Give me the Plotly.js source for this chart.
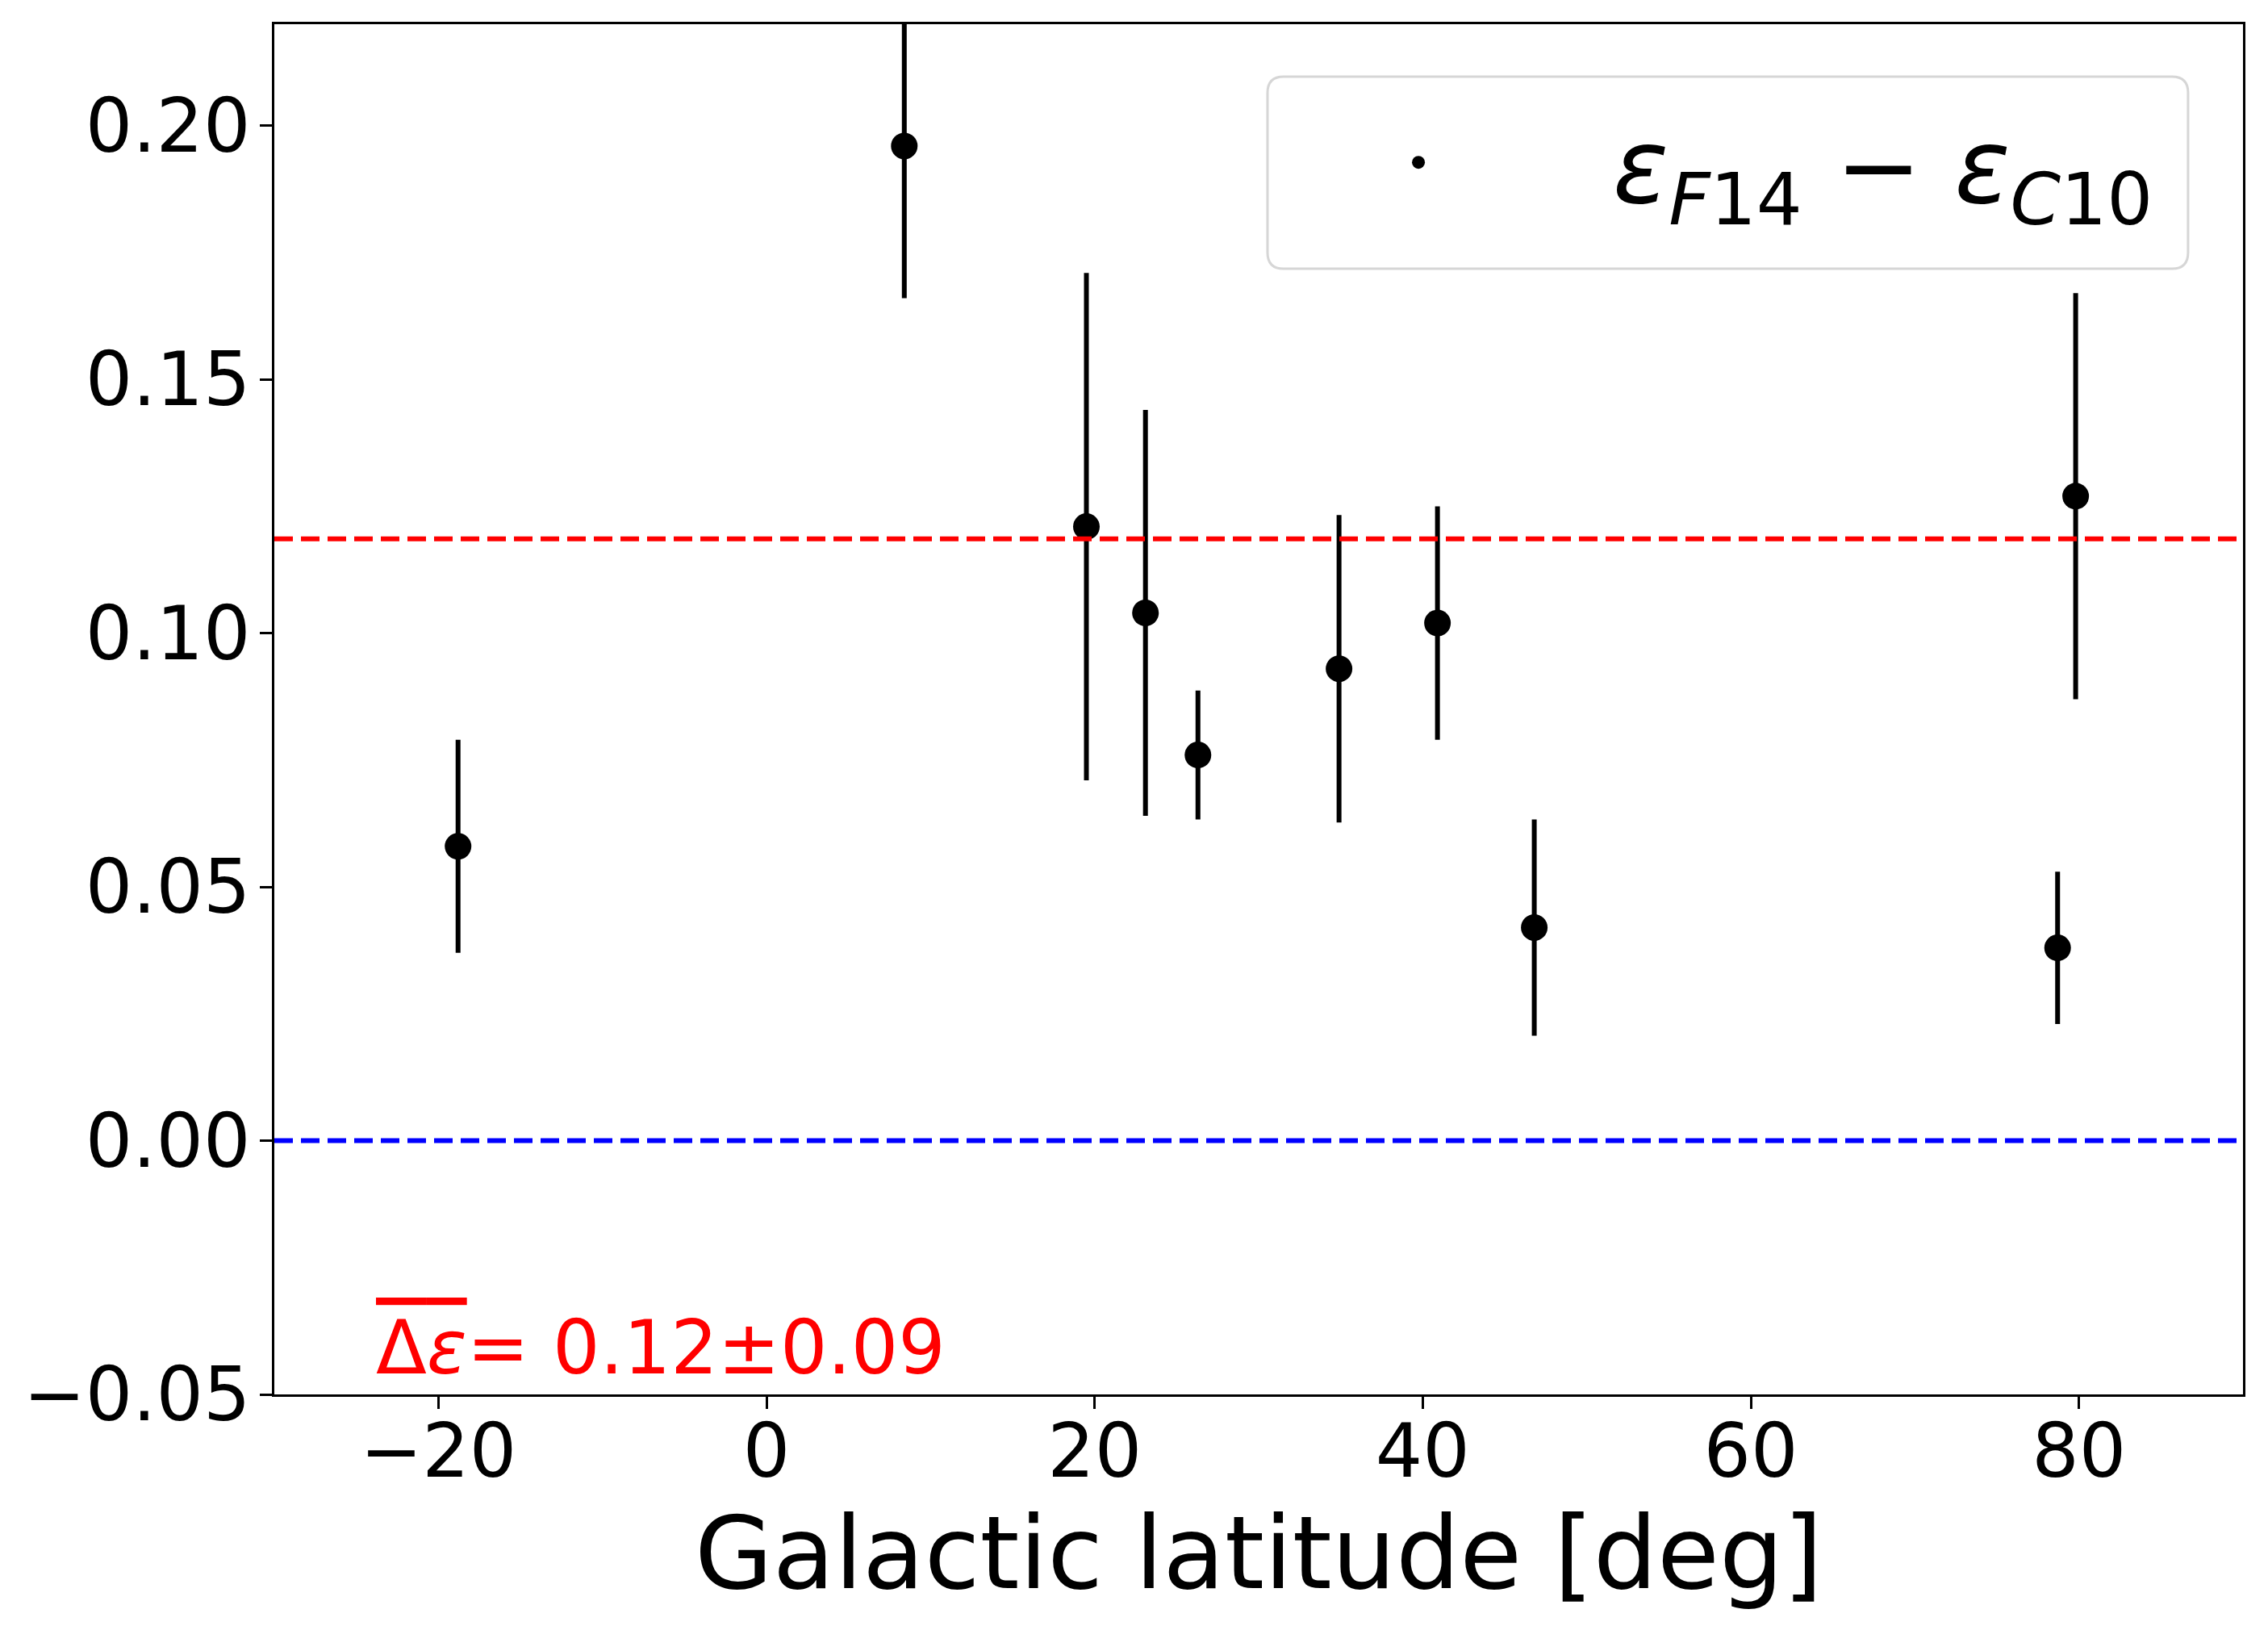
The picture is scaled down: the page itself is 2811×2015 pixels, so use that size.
<!DOCTYPE html>
<html>
<head>
<meta charset="utf-8">
<script src="https://cdn.plot.ly/plotly-3.0.1.min.js"></script>
<style>html,body{margin:0;padding:0;background:#fff;}</style>
</head>
<body>
<div id="chart" style="width:2811px;height:2015px;"></div>
<script>
// Data
var latitude = [-18.8, 8.4, 19.5, 23.1, 26.3, 34.9, 40.9, 46.8, 78.7, 79.8];
var deltaEps = [0.058, 0.196, 0.121, 0.104, 0.076, 0.093, 0.102, 0.042, 0.038, 0.127];
var deltaErr = [0.021, 0.030, 0.050, 0.040, 0.0127, 0.0303, 0.023, 0.0213, 0.015, 0.040];
var meanValue = 0.1186;
var zeroValue = 0.0;
var xTicks = [-20, 0, 20, 40, 60, 80];
var yTicks = [-0.05, 0.00, 0.05, 0.10, 0.15, 0.20];
var seriesName = "<i>ε</i><sub><i>F</i>14</sub> − <i>ε</i><sub><i>C</i>10</sub>";
var annotText = "<span style='text-decoration:overline'>Δ<i>ε</i></span>= 0.12±0.09";

var FONT = "DejaVu Sans, Liberation Sans, sans-serif";

// legend frame (rounded box) in paper coordinates
function roundedBox(x0, y0, x1, y1, rx, ry) {
  return "M " + (x0 + rx) + "," + y1 +
    " L " + (x1 - rx) + "," + y1 +
    " Q " + x1 + "," + y1 + " " + x1 + "," + (y1 - ry) +
    " L " + x1 + "," + (y0 + ry) +
    " Q " + x1 + "," + y0 + " " + (x1 - rx) + "," + y0 +
    " L " + (x0 + rx) + "," + y0 +
    " Q " + x0 + "," + y0 + " " + x0 + "," + (y0 + ry) +
    " L " + x0 + "," + (y1 - ry) +
    " Q " + x0 + "," + y1 + " " + (x0 + rx) + "," + y1 + " Z";
}

var trace = {
  x: latitude,
  y: deltaEps,
  mode: "markers",
  type: "scatter",
  name: seriesName,
  marker: {color: "#000000", size: 33},
  error_y: {type: "data", array: deltaErr, visible: true, color: "#000000", thickness: 6, width: 0},
  showlegend: true
};

var layout = {
  width: 2811,
  height: 2015,
  margin: {l: 340, r: 31, t: 30, b: 287, pad: 0},
  paper_bgcolor: "#ffffff",
  plot_bgcolor: "#ffffff",
  font: {family: FONT, color: "#000000", size: 92},
  showlegend: true,
  legend: {
    x: 0.4824, xanchor: "left", y: 0.952, yanchor: "top",
    bgcolor: "rgba(0,0,0,0)", borderwidth: 0,
    font: {family: FONT, size: 128, color: "#000000"},
    itemwidth: 472
  },
  xaxis: {
    range: [-30, 90],
    tickvals: xTicks,
    ticktext: xTicks.map(function(v){ return v < 0 ? "\u2212" + Math.abs(v) : String(v); }),
    ticks: "outside", ticklen: 15, tickwidth: 3, tickcolor: "#000000",
    showline: true, linewidth: 3, linecolor: "#000000", mirror: true,
    showgrid: false, zeroline: false,
    tickfont: {family: FONT, size: 92, color: "#000000"},
    ticklabelstandoff: -26,
    title: {text: "Galactic latitude [deg]", font: {family: FONT, size: 125, color: "#000000"}, standoff: 23}
  },
  yaxis: {
    range: [-0.05, 0.22],
    tickvals: yTicks,
    ticktext: yTicks.map(function(v){ var s = Math.abs(v).toFixed(2); return v < 0 ? "\u2212" + s : s; }),
    ticks: "outside", ticklen: 15, tickwidth: 3, tickcolor: "#000000",
    showline: true, linewidth: 3, linecolor: "#000000", mirror: true,
    showgrid: false, zeroline: false,
    tickfont: {family: FONT, size: 92, color: "#000000"},
    ticklabelstandoff: -7
  },
  shapes: [
    {type: "line", xref: "paper", x0: 0, x1: 1, yref: "y", y0: meanValue, y1: meanValue,
     line: {color: "#ff0000", width: 6, dash: "23px,10px"}, layer: "above"},
    {type: "line", xref: "paper", x0: 0, x1: 1, yref: "y", y0: zeroValue, y1: zeroValue,
     line: {color: "#0000ff", width: 6, dash: "23px,10px"}, layer: "above"},
    {type: "path", xref: "paper", yref: "paper",
     path: roundedBox(0.5045, 0.8216, 0.9721, 0.9617, 0.0082, 0.0118),
     line: {color: "#d6d6d6", width: 3}, fillcolor: "rgba(255,255,255,0.8)", layer: "above"}
  ],
  annotations: [
    {xref: "paper", yref: "paper", x: 0.0508, y: 0, xanchor: "left", yanchor: "bottom",
     text: annotText, showarrow: false, font: {family: FONT, size: 92, color: "#ff0000"}, yshift: 2}
  ]
};

Plotly.newPlot("chart", [trace], layout, {displayModeBar: false, staticPlot: true});
</script>
</body>
</html>
